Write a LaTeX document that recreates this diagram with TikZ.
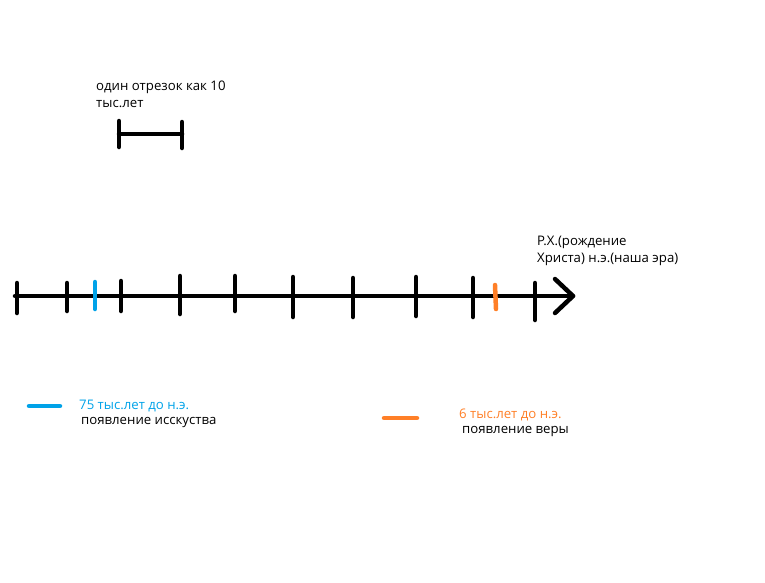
\documentclass[tikz,border=0pt]{standalone}
\usepackage{fontspec}
\setmainfont{Open Sans}
\usetikzlibrary{positioning}
\definecolor{artblue}{RGB}{0,162,232}
\definecolor{faithorange}{RGB}{255,127,39}

\begin{document}
\begin{tikzpicture}[x=1pt,y=-1pt,line cap=round,line join=round,
  bold/.style={line width=4.5pt},
  lbl/.style={inner sep=0pt,anchor=base west,align=left,font=\fontsize{13.2}{17}\selectfont}]
\useasboundingbox (0,0) rectangle (765,582);
% scale: one segment
\node[lbl] (unit) at (96,107) {один отрезок как 10\\тыс.лет};
\coordinate (s0) at (119,134); \coordinate (s1) at (182,134);
\draw[bold] (s0) -- (s1);
\draw[bold] ([yshift=-13pt]s0) -- ([yshift=13pt]s0);
\draw[bold] ([yshift=-14pt]s1) -- ([yshift=12pt]s1);
% time axis
\coordinate (start) at (15,296); \coordinate (rx) at (573,296);
\draw[bold] (start) -- (rx);
\draw[bold] (555,279) -- (rx) -- (555,313);
\foreach \x/\t/\b in {17/283/313,67/283/311,121/281/311,180/276/314,235/276/311,
  293/277/317,353/278/317,416/277/316,473/278/317,535/283/320}
  \draw[bold] (\x,\t) -- (\x,\b);
\draw[bold,artblue] (95,282) -- (95,309);
\draw[bold,faithorange] (495,285) -- (496,309);
\node[lbl] (era) at (537,262) {Р.Х.(рождение\\Христа) н.э.(наша эра)};
% legend
\coordinate (b0) at (29,406); \coordinate (b1) at (60,406);
\draw[bold,artblue] (b0) -- (b1);
\node[lbl,text=artblue] (artdate) at (79,409) {75 тыс.лет до н.э.};
\node[lbl] (art) at (81,424) {появление исскуства};
\coordinate (o0) at (384,418); \coordinate (o1) at (417,418);
\draw[bold,faithorange] (o0) -- (o1);
\node[lbl,text=faithorange] (faithdate) at (459,418) {6 тыс.лет до н.э.};
\node[lbl] (faith) at (462,433) {появление веры};
\end{tikzpicture}
\end{document}
